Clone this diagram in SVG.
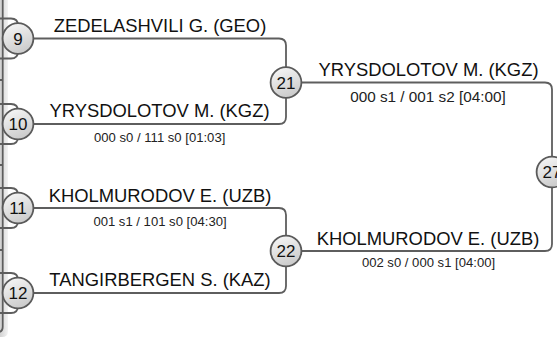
<svg xmlns="http://www.w3.org/2000/svg" width="557" height="343" viewBox="0 0 557 343">
<defs>
<linearGradient id="cg" x1="0" y1="0" x2="0.4" y2="1">
<stop offset="0" stop-color="#fafafa"/>
<stop offset="1" stop-color="#cdcdcd"/>
</linearGradient>
<linearGradient id="sh" x1="0" y1="0" x2="1" y2="0">
<stop offset="0" stop-color="#d2d2d2"/>
<stop offset="1" stop-color="#f3f3f3"/>
</linearGradient>
<style>
.ln{fill:none;stroke:#5e5e5e;stroke-width:1.8}
.nd circle{fill:url(#cg);stroke:#5a5a5a;stroke-width:1.8}
.num{font-family:"Liberation Sans",Arial,sans-serif;font-size:17px;fill:#111;text-anchor:middle}
.name{font-family:"Liberation Sans",Arial,sans-serif;font-size:18.4px;fill:#111;text-anchor:middle}
.sc{font-family:"Liberation Sans",Arial,sans-serif;font-size:13.1px;fill:#222;text-anchor:middle}
.scb{font-family:"Liberation Sans",Arial,sans-serif;font-size:15.3px;fill:#222;text-anchor:middle}
</style>
</defs>
<rect width="557" height="343" fill="#ffffff"/>
<g id="panel">
<path d="M0 0 H8 V331 Q8 337 2 337 H0 Z" fill="url(#sh)"/>
<path class="ln" d="M2.7 0 V327 Q2.7 332 -2 332"/>
<path class="ln" d="M0 80 H2.7 M0 165 H2.7 M0 250 H2.7"/>
</g>
<g id="connectors">
<path class="ln" d="M0 18.5 H11 Q18 18.5 18 25.5 V51.5 Q18 58.5 11 58.5 H0"/>
<path class="ln" d="M0 104 H11 Q18 104 18 111 V137 Q18 144 11 144 H0"/>
<path class="ln" d="M0 188 H11 Q18 188 18 195 V221 Q18 228 11 228 H0"/>
<path class="ln" d="M0 273 H11 Q18 273 18 280 V306 Q18 313 11 313 H0"/>
<path class="ln" d="M18 38.5 H279 Q286 38.5 286 45.5 V117 Q286 124 279 124 H18"/>
<path class="ln" d="M18 208 H279 Q286 208 286 215 V286 Q286 293 279 293 H18"/>
<path class="ln" d="M286 82.5 H545 Q552 82.5 552 89.5 V244 Q552 251 545 251 H286"/>
</g>
<g id="n9" class="nd"><circle cx="18" cy="38.5" r="15.4"/><text class="num" x="18" y="44.6">9</text></g>
<g id="n10" class="nd"><circle cx="18" cy="124" r="15.4"/><text class="num" x="18" y="130.1">10</text></g>
<g id="n11" class="nd"><circle cx="18" cy="208" r="15.4"/><text class="num" x="18" y="214.1">11</text></g>
<g id="n12" class="nd"><circle cx="18" cy="293" r="15.4"/><text class="num" x="18" y="299.1">12</text></g>
<g id="n21" class="nd"><circle cx="286" cy="82.5" r="15.4"/><text class="num" x="286" y="88.6">21</text></g>
<g id="n22" class="nd"><circle cx="286" cy="251" r="15.4"/><text class="num" x="286" y="257.1">22</text></g>
<g id="n27" class="nd"><circle cx="552" cy="172" r="15.4"/><text class="num" x="552" y="178.1">27</text></g>
<g id="labels">
<text class="name" x="160" y="32">ZEDELASHVILI G. (GEO)</text>
<text class="name" x="159.5" y="117">YRYSDOLOTOV M. (KGZ)</text>
<text class="sc" x="159.7" y="142">000 s0 / 111 s0 [01:03]</text>
<text class="name" x="160" y="201.5">KHOLMURODOV E. (UZB)</text>
<text class="sc" x="160" y="226">001 s1 / 101 s0 [04:30]</text>
<text class="name" x="160" y="286">TANGIRBERGEN S. (KAZ)</text>
<text class="name" x="428.5" y="76">YRYSDOLOTOV M. (KGZ)</text>
<text class="scb" x="428" y="102">000 s1 / 001 s2 [04:00]</text>
<text class="name" x="428" y="245">KHOLMURODOV E. (UZB)</text>
<text class="sc" x="428.5" y="266.5">002 s0 / 000 s1 [04:00]</text>
</g>
</svg>
